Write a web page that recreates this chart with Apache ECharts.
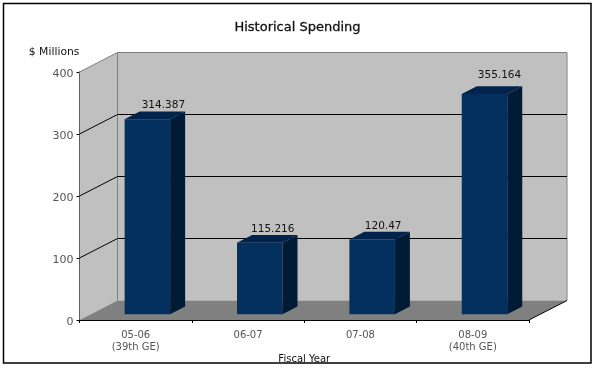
<!DOCTYPE html>
<html><head><meta charset="utf-8">
<style>html,body{margin:0;padding:0;background:#fff}#c{width:595px;height:370px}</style>
<script src="https://cdn.jsdelivr.net/npm/echarts@6/dist/echarts.min.js"></script>
</head><body><div id="c"></div>
<script>
const categories = ['05-06\n(39th GE)', '06-07', '07-08', '08-09\n(40th GE)'];
const spending = [314.387, 115.216, 120.47, 355.164];
const spendingLabels = ['314.387', '115.216', '120.47', '355.164'];
const gridTicks = [100, 200, 300];
const valueTicks = [0, 100, 200, 300, 400];

const FONT = '"DejaVu Sans", sans-serif';
const WALL_DX = 38, WALL_DY = -19.5;
const BAR_SHIFT_X = 11.7, BAR_SHIFT_Y = -5.8;
const BAR_DX = 15, BAR_DY = -7.7, BAR_RATIO = 0.405;
const labelNudge = [[16, -14], [13, -14], [11, -13], [15, -19]];

function poly(points, fill, z2) {
  return { type: 'polygon', z2: z2 || 0, shape: { points }, style: { fill } };
}
function seg(a, b, stroke, z2) {
  return { type: 'line', z2: z2 || 0, shape: { x1: a[0], y1: a[1], x2: b[0], y2: b[1] },
    style: { stroke, lineWidth: 1, fill: null } };
}
function renderWalls(params, api) {
  const c = params.coordSys, l = c.x, r = c.x + c.width, t = c.y, b = c.y + c.height;
  const d = (p) => [p[0] + WALL_DX, p[1] + WALL_DY];
  const children = [
    poly([[l, t], d([l, t]), d([l, b]), [l, b]], '#c0c0c0'),
    poly([d([l, t]), d([r, t]), d([r, b]), d([l, b])], '#c0c0c0'),
    poly([[l, b], [r, b], d([r, b]), d([l, b])], '#808080'),
    seg([l, t], d([l, t]), '#808080', 2),
    seg(d([l, t]), d([r, t]), '#808080', 2),
    seg(d([l, t]), d([l, b]), '#808080', 2),
    seg(d([r, t]), d([r, b]), '#808080', 2),
    seg([r, b], d([r, b]), '#000', 2)
  ];
  gridTicks.forEach((v) => {
    const y = api.coord([0, v])[1];
    children.push(seg([l, y], d([l, y]), '#000', 3));
    children.push(seg(d([l, y]), d([r, y]), '#000', 3));
  });
  return { type: 'group', children };
}
function renderBar(params, api) {
  const i = api.value(0), v = api.value(1);
  const top = api.coord([i, v]), base = api.coord([i, 0]);
  const w = api.size([1, 0])[0] * BAR_RATIO;
  const x0 = top[0] - w / 2 + BAR_SHIFT_X, x1 = x0 + w;
  const y0 = top[1] + BAR_SHIFT_Y, y1 = base[1] + BAR_SHIFT_Y;
  const n = labelNudge[params.dataIndex];
  return { type: 'group', children: [
    poly([[x0, y0], [x1, y0], [x1, y1], [x0, y1]], '#03305f'),
    poly([[x1, y0], [x1 + BAR_DX, y0 + BAR_DY], [x1 + BAR_DX, y1 + BAR_DY], [x1, y1]], '#011a36'),
    poly([[x0, y0], [x0 + BAR_DX, y0 + BAR_DY], [x1 + BAR_DX, y0 + BAR_DY], [x1, y0]], '#02244c'),
    { type: 'text', z2: 5, style: {
        x: top[0] + BAR_SHIFT_X + n[0], y: y0 + n[1],
        text: spendingLabels[params.dataIndex], align: 'center', verticalAlign: 'middle',
        font: '10.5px ' + FONT, fill: '#111' } }
  ] };
}

const chart = echarts.init(document.getElementById('c'), null, { renderer: 'canvas' });
chart.setOption({
  animation: false,
  backgroundColor: '#fff',
  title: { text: 'Historical Spending', left: 'center', top: 16,
    textStyle: { fontFamily: FONT, fontSize: 13, fontWeight: 'normal', color: '#111',
      textBorderColor: '#111', textBorderWidth: 0.3 } },
  grid: { left: 79.5, top: 72, width: 449.5, height: 248, outerBoundsMode: 'none' },
  xAxis: { type: 'category', data: categories, boundaryGap: true,
    name: 'Fiscal Year', nameLocation: 'middle', nameGap: 34, nameMoveOverlap: false,
    nameTextStyle: { fontFamily: FONT, fontSize: 10, color: '#111' },
    axisLine: { lineStyle: { color: '#000', width: 1 } },
    axisTick: { show: true, length: 3, lineStyle: { color: '#000' } },
    axisLabel: { fontFamily: FONT, fontSize: 10, color: '#555', margin: 9, lineHeight: 12, interval: 0 },
    splitLine: { show: false } },
  yAxis: { type: 'value', min: 0, max: 400, interval: 100,
    name: '$ Millions', nameLocation: 'end', nameGap: 14,
    nameTextStyle: { fontFamily: FONT, fontSize: 10.8, color: '#111', align: 'right' },
    axisLine: { show: true, lineStyle: { color: '#000', width: 1 } },
    axisTick: { show: true, length: 3, lineStyle: { color: '#000' } },
    axisLabel: { margin: 6,
      formatter: (v) => '{t|' + valueTicks[valueTicks.indexOf(v)] + '}',
      rich: { t: { fontFamily: FONT, fontSize: 11, color: '#555', padding: [4, 0, 0, 0] } } },
    splitLine: { show: false } },
  series: [
    { type: 'custom', silent: true, z: 1, renderItem: renderWalls, data: [[0, 0]], clip: false },
    { type: 'custom', silent: true, z: 3, renderItem: renderBar, clip: false,
      encode: { x: 0, y: 1 }, data: spending.map((v, i) => [i, v]) }
  ],
  graphic: [{ type: 'rect', z: 10, silent: true,
    shape: { x: 3.5, y: 3.5, width: 587.5, height: 359.5 },
    style: { fill: null, stroke: '#000', lineWidth: 1.5 } }]
});
</script></body></html>
